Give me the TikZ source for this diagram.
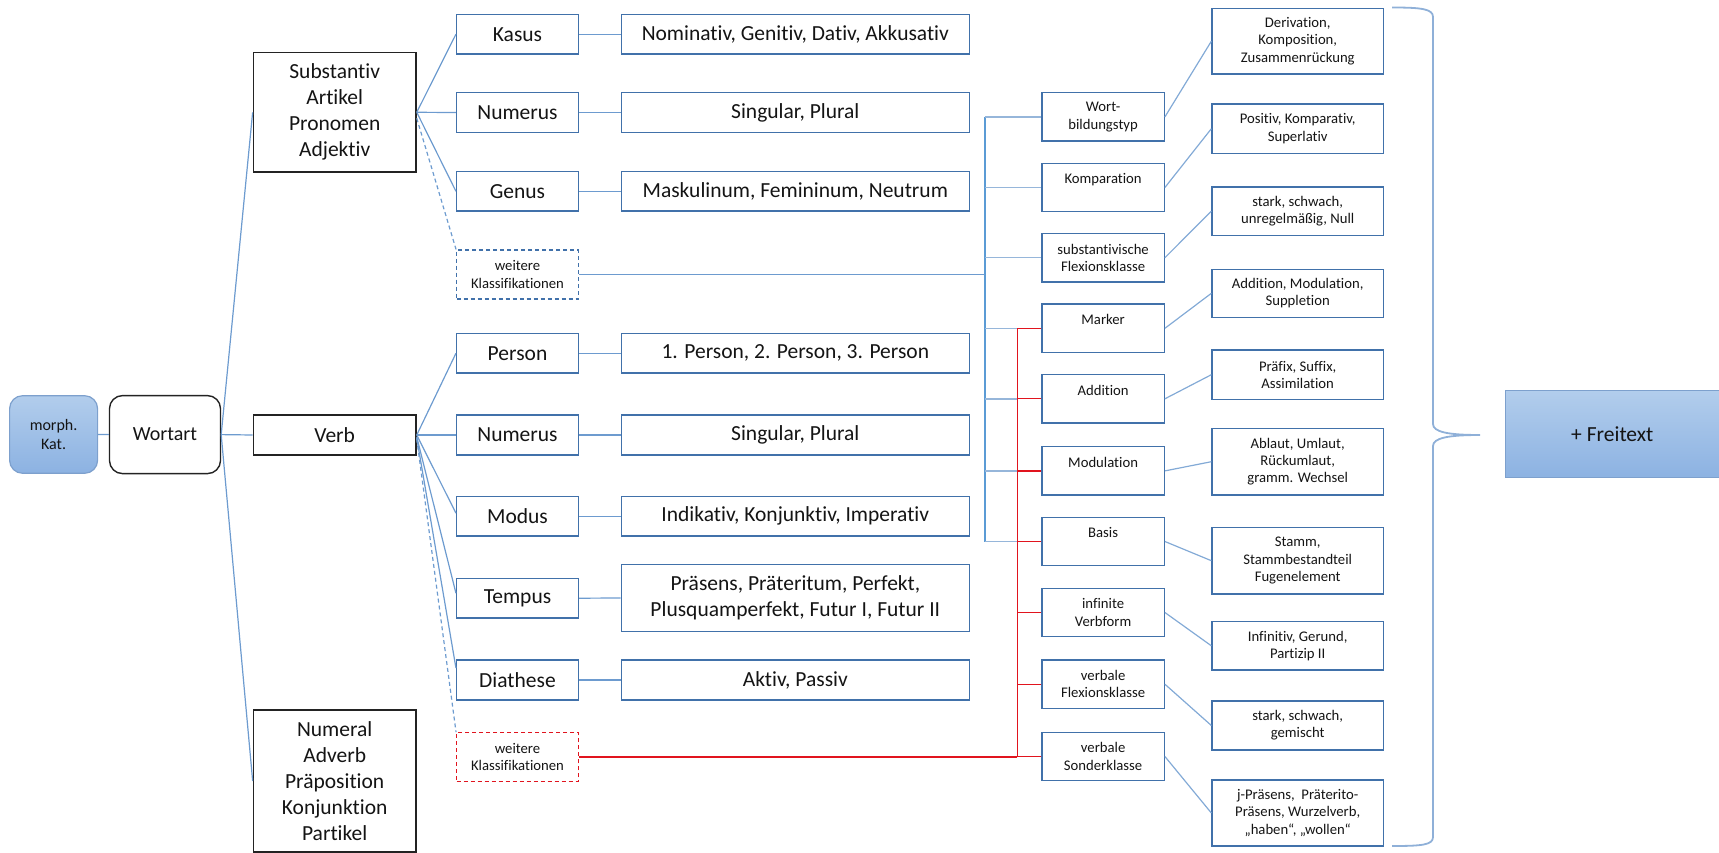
\documentclass[tikz,border=0pt]{standalone}
\usepackage{fontspec}
\setmainfont{Carlito}[Ligatures={NoCommon}]
\usetikzlibrary{calc}
\definecolor{lineblue}{RGB}{109,155,207}
\definecolor{trunkblue}{RGB}{91,155,213}
\definecolor{stubblue}{RGB}{150,182,218}
\definecolor{boxblue}{RGB}{65,113,170}
\definecolor{blkb}{RGB}{35,35,35}
\definecolor{txt}{RGB}{20,20,20}
\definecolor{redl}{RGB}{225,20,30}
\definecolor{bracec}{RGB}{143,176,216}
\definecolor{ftop}{RGB}{178,205,236}
\definecolor{fbot}{RGB}{140,178,226}
\definecolor{fborder}{RGB}{125,160,205}
\begin{document}
\begin{tikzpicture}[x=1pt,y=-1pt,
  big/.style={font=\fontsize{21.5}{26}\selectfont, align=center, inner sep=0pt, text=txt},
  sml/.style={font=\fontsize{14.7}{17.3}\selectfont, align=center, inner sep=0pt, text=txt},
  blk/.style={big, draw=blkb, line width=1.4pt, minimum width=162.7pt},
  cat/.style={big, draw=boxblue, line width=1.4pt, minimum width=121.7pt, minimum height=39.7pt},
  val/.style={big, draw=boxblue, line width=1.4pt, minimum width=347.9pt, minimum height=39.7pt},
  weit/.style={sml, line width=1.2pt, dash pattern=on 4pt off 3pt, minimum width=121.7pt, minimum height=49pt},
  smb/.style={sml, draw=boxblue, line width=1.4pt, minimum width=122.2pt, minimum height=48.5pt},
  frb/.style={sml, draw=boxblue, line width=1.4pt, minimum width=171.3pt},
  conn/.style={draw=lineblue, line width=1.2pt},
  dconn/.style={conn, dash pattern=on 4pt off 3pt},
  redc/.style={draw=redl, line width=1.6pt}
]
\useasboundingbox (0,0) rectangle (1719,853);

% left column
\node[draw=fborder, line width=1.2pt, rounded corners=13pt, top color=ftop, bottom color=fbot,
      minimum width=88pt, minimum height=77.6pt, inner sep=0pt, align=center,
      font=\fontsize{16}{19}\selectfont, text=txt] (morph) at (53.6,434.5) {morph.\\Kat.};
\node[draw=blkb, line width=1.4pt, rounded corners=13pt, minimum width=111pt, minimum height=78pt,
      inner sep=0pt, font=\fontsize{20}{24}\selectfont, text=txt] (wortart) at (165,434.6) {Wortart};

\node[blk, minimum height=119.3pt] (subst) at (334.7,112.3) {Substantiv\\Artikel\\Pronomen\\Adjektiv};
\node[blk, minimum height=40pt] (verb) at (334.7,435) {Verb};
\node[blk, minimum height=142.3pt] (numeral) at (334.7,781) {Numeral\\Adverb\\Präposition\\Konjunktion\\Partikel};

% category column
\node[cat] (kasus) at (517.5,34.2) {Kasus};
\node[cat] (numS) at (517.5,112.5) {Numerus};
\node[cat] (genus) at (517.5,191.3) {Genus};
\node[weit, draw=boxblue] (weitS) at (517.5,274.5) {weitere\\Klassifikationen};
\node[cat] (person) at (517.5,353.3) {Person};
\node[cat] (numV) at (517.5,435) {Numerus};
\node[cat] (modus) at (517.5,516.2) {Modus};
\node[cat] (tempus) at (517.5,598.2) {Tempus};
\node[cat] (diath) at (517.5,680) {Diathese};
\node[weit, draw=redl] (weitV) at (517.5,757.2) {weitere\\Klassifikationen};

% value column
\node[val] (nomi) at (795.3,34.2) {Nominativ, Genitiv, Dativ, Akkusativ};
\node[val] (sing1) at (795.3,112.5) {Singular, Plural};
\node[val] (mask) at (795.3,191.3) {Maskulinum, Femininum, Neutrum};
\node[val] (pers1) at (795.3,353.3) {1. Person, 2. Person, 3. Person};
\node[val] (sing2) at (795.3,435) {Singular, Plural};
\node[val] (indi) at (795.3,516.2) {Indikativ, Konjunktiv, Imperativ};
\node[val, minimum height=67.4pt] (praes) at (795.3,598) {Präsens, Präteritum, Perfekt,\\Plusquamperfekt, Futur I, Futur II};
\node[val] (aktiv) at (795.3,680) {Aktiv, Passiv};

% small column
\node[smb] (wbt) at (1103.1,116.9) {Wort-\\bildungstyp};
\node[smb] (komp) at (1103.1,187.5) {Komparation\\\phantom{X}};
\node[smb] (sfk) at (1103.1,257.7) {substantivische\\Flexionsklasse};
\node[smb] (marker) at (1103.1,328.3) {Marker\\\phantom{X}};
\node[smb] (addi) at (1103.1,398.8) {Addition\\\phantom{X}};
\node[smb] (modul) at (1103.1,470.9) {Modulation\\\phantom{X}};
\node[smb] (basis) at (1103.1,541.5) {Basis\\\phantom{X}};
\node[smb] (infin) at (1103.1,612.5) {infinite\\Verbform};
\node[smb] (vfk) at (1103.1,684.2) {verbale\\Flexionsklasse};
\node[smb] (vsk) at (1103.1,756.5) {verbale\\Sonderklasse};

% far right column
\node[frb, minimum height=65.7pt] (deriv) at (1297.7,41.2) {Derivation,\\Komposition,\\Zusammenrückung};
\node[frb, minimum height=49.3pt] (posit) at (1297.7,128.7) {Positiv, Komparativ,\\Superlativ};
\node[frb, minimum height=48.3pt] (stark1) at (1297.7,211.2) {stark, schwach,\\unregelmäßig, Null};
\node[frb, minimum height=48pt] (addmod) at (1297.7,293.3) {Addition, Modulation,\\Suppletion};
\node[frb, minimum height=49.3pt] (praef) at (1297.7,374.7) {Präfix, Suffix,\\Assimilation};
\node[frb, minimum height=66.7pt] (ablaut) at (1297.7,461.7) {Ablaut, Umlaut,\\Rückumlaut,\\gramm. Wechsel};
\node[frb, minimum height=66.7pt] (stamm) at (1297.7,560.7) {Stamm,\\Stammbestandteil\\Fugenelement};
\node[frb, minimum height=48.3pt] (infv) at (1297.7,645.8) {Infinitiv, Gerund,\\Partizip II};
\node[frb, minimum height=49pt] (stark2) at (1297.7,725.5) {stark, schwach,\\gemischt};
\node[frb, minimum height=66pt] (jpraes) at (1297.7,813) {j-Präsens,~ Präterito-\\Präsens, Wurzelverb,\\„haben“, „wollen“};

% Freitext
\node[draw=fborder, line width=1.2pt, top color=ftop, bottom color=fbot, minimum width=220pt,
      minimum height=87pt, inner sep=0pt, font=\fontsize{21.5}{26}\selectfont, text=txt]
      (frei) at (1615.7,434.2) {\hspace*{-6.8pt}+ Freitext};

% brace
\draw[bracec, line width=1.8pt] (1392,7.5) .. controls (1422,7.5) and (1433,9) .. (1433,17)
  -- (1433,424) .. controls (1433,432) and (1448,435) .. (1480,435)
  .. controls (1448,435) and (1433,438) .. (1433,446)
  -- (1433,837) .. controls (1433,845) and (1422,846) .. (1392,846);

% connectors left
\draw[conn] (morph.east) -- (wortart.west);
\draw[conn] (wortart.east) -- (subst.west);
\draw[conn] (wortart.east) -- (verb.west);
\draw[conn] (wortart.east) -- (numeral.west);

\draw[conn] (subst.east) -- (kasus.west);
\draw[conn] (subst.east) -- (numS.west);
\draw[conn] (subst.east) -- (genus.west);
\draw[dconn] ([yshift=-6pt]subst.east) -- (weitS.north west);

\draw[conn] (verb.east) -- (person.west);
\draw[conn] (verb.east) -- (numV.west);
\draw[conn] (verb.east) -- ([yshift=3pt]modus.west);
\draw[conn] ([yshift=-2pt]verb.east) -- ([yshift=5pt]tempus.west);
\draw[conn] ([yshift=-3pt]verb.east) -- ([yshift=12pt]diath.west);
\draw[dconn] ([yshift=-4pt]verb.east) -- (weitV.north west);

\foreach \a/\b in {kasus/nomi, numS/sing1, genus/mask, person/pers1, numV/sing2, modus/indi, tempus/praes, diath/aktiv}
  \draw[conn] (\a.east) -- (\b.west);

% trunk
\coordinate (tb) at (985,0);
\coordinate (rb) at (1017.4,0);
\draw[trunkblue, line width=1.5pt] (tb |- wbt.west) -- (tb |- basis.west);
\draw[conn] (weitS.east) -- (tb |- weitS.east);
\foreach \n in {wbt, komp, sfk}
  \draw[draw=stubblue, line width=1.5pt] (tb |- \n.west) -- (\n.west);
\foreach \n in {marker, addi, modul, basis}
  \draw[draw=stubblue, line width=1.5pt] (tb |- \n.west) -- (rb |- \n.west);

% red
\draw[redc, line width=2.4pt] (weitV.east) -- (rb |- weitV.east);
\draw[redc] (rb |- weitV.east) -- (rb |- marker.west);
\foreach \n in {marker, addi, modul, basis, infin, vfk, vsk}
  \draw[redc, line width=1.3pt] (rb |- \n.west) -- (\n.west);

% small -> far right
\foreach \a/\b in {wbt/deriv, komp/posit, sfk/stark1, marker/addmod, addi/praef, modul/ablaut, basis/stamm, infin/infv, vfk/stark2, vsk/jpraes}
  \draw[conn, draw=lineblue!85!white] (\a.east) -- (\b.west);
\end{tikzpicture}
\end{document}
